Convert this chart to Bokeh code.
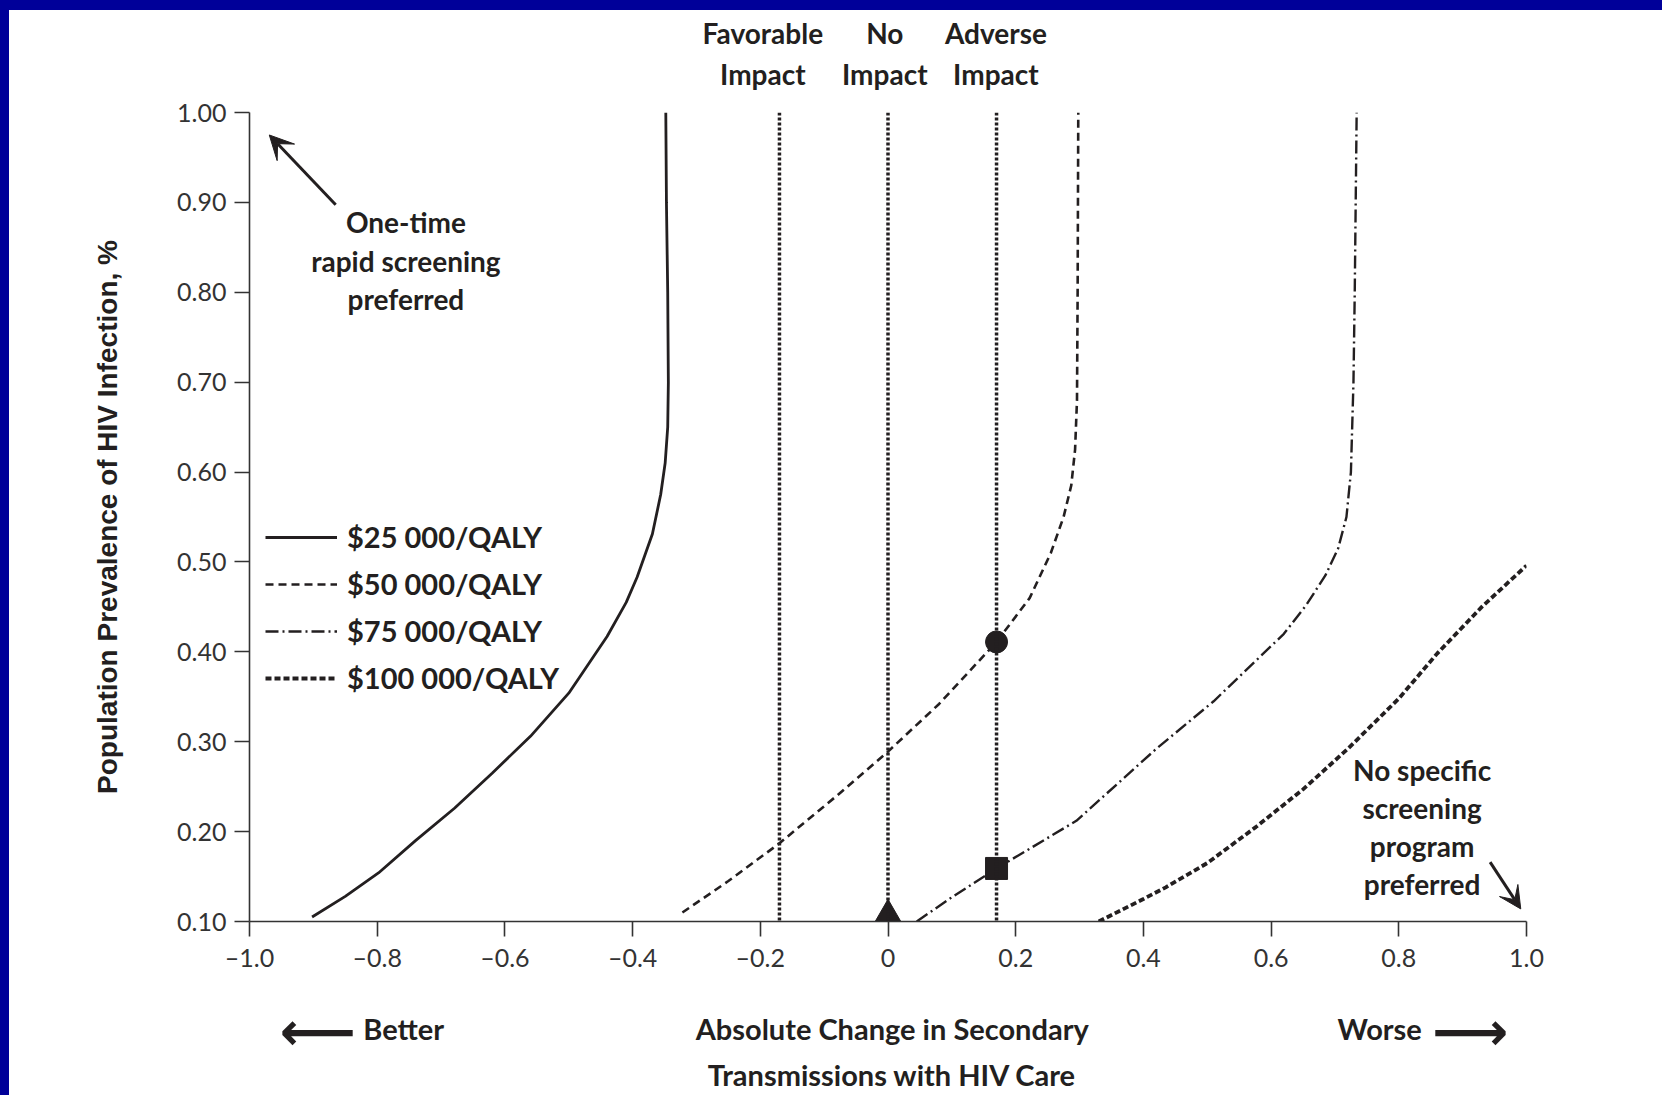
from bokeh.plotting import figure
from bokeh.models import (Range1d, FixedTicker, Label, Arrow, VeeHead, Span, Legend, LegendItem,
                          LinearAxis)
from bokeh.embed import file_html
from bokeh.resources import INLINE

INK = "#231f20"

# ---------------- data ----------------
x_ticks = [-1.0, -0.8, -0.6, -0.4, -0.2, 0.0, 0.2, 0.4, 0.6, 0.8, 1.0]
x_tick_labels = ["\u20131.0", "\u20130.8", "\u20130.6", "\u20130.4", "\u20130.2", "0", "0.2", "0.4", "0.6", "0.8", "1.0"]
y_ticks = [0.10, 0.20, 0.30, 0.40, 0.50, 0.60, 0.70, 0.80, 0.90, 1.00]
y_tick_labels = ["0.10", "0.20", "0.30", "0.40", "0.50", "0.60", "0.70", "0.80", "0.90", "1.00"]

series_names = ["$25 000/QALY", "$50 000/QALY", "$75 000/QALY", "$100 000/QALY"]

wtp25_x = [-0.902, -0.85, -0.798, -0.74, -0.679, -0.62, -0.56, -0.50, -0.44, -0.41, -0.393, -0.369, -0.356, -0.349, -0.345, -0.344, -0.345, -0.347, -0.348]
wtp25_y = [0.105, 0.128, 0.154, 0.19, 0.226, 0.265, 0.306, 0.354, 0.417, 0.455, 0.483, 0.531, 0.575, 0.61, 0.65, 0.70, 0.80, 0.90, 1.00]

wtp50_x = [-0.322, -0.25, -0.17, -0.08, 0.0, 0.08, 0.17, 0.222, 0.255, 0.275, 0.287, 0.293, 0.296, 0.297, 0.298]
wtp50_y = [0.110, 0.145, 0.187, 0.240, 0.289, 0.342, 0.411, 0.460, 0.510, 0.550, 0.585, 0.625, 0.68, 0.80, 1.00]

wtp75_x = [0.045, 0.10, 0.17, 0.295, 0.42, 0.51, 0.576, 0.62, 0.655, 0.685, 0.705, 0.718, 0.725, 0.729, 0.731, 0.734]
wtp75_y = [0.100, 0.127, 0.159, 0.212, 0.292, 0.345, 0.390, 0.420, 0.452, 0.485, 0.515, 0.55, 0.60, 0.70, 0.80, 1.00]

wtp100_x = [0.330, 0.40, 0.435, 0.50, 0.576, 0.65, 0.72, 0.80, 0.86, 0.93, 1.0]
wtp100_y = [0.100, 0.125, 0.138, 0.165, 0.205, 0.247, 0.292, 0.348, 0.398, 0.450, 0.496]

impact_x = [-0.17, 0.0, 0.17]          # favorable / no / adverse impact lines
header_x = [-0.196, -0.005, 0.169]
header_top = ["Favorable", "No", "Adverse"]
header_bottom = ["Impact", "Impact", "Impact"]

xtitle_x = [-0.7585, 0.0066, 0.770]
xtitle_row1 = ["Better", "Absolute Change in Secondary", "Worse"]
xarrow_x = [-0.893, 0.912]
xarrow_labels = ["\u27f5", "\u27f6"]
xtitle_row2_x = [0.0066]
xtitle_row2 = ["Transmissions with HIV Care"]

circle_pt = ([0.17], [0.411])
square_pt = ([0.17], [0.159])
triangle_pt = ([0.0], [0.108])

# ---------------- figure ----------------
p = figure(width=1653, height=1085, output_backend="svg", toolbar_location=None,
           x_range=Range1d(-1.0, 1.0), y_range=Range1d(0.10, 1.00),
           min_border_left=240, min_border_right=136, min_border_top=102, min_border_bottom=174,
           background_fill_color="white", border_fill_color="white")
p.outline_line_color = None
p.xgrid.visible = False
p.ygrid.visible = False

for ax in (p.xaxis, p.yaxis):
    ax.axis_line_color = "#333333"
    ax.axis_line_width = 1.6
    ax.major_tick_line_color = "#333333"
    ax.major_tick_line_width = 1.6
    ax.major_tick_out = 15
    ax.major_tick_in = 0
    ax.minor_tick_line_color = None
    ax.major_label_text_font = "Lato"
    ax.major_label_text_font_size = "25px"
    ax.major_label_text_color = "#333333"

p.xaxis.ticker = FixedTicker(ticks=x_ticks)
p.xaxis.major_label_overrides = dict(zip(x_ticks, x_tick_labels))
p.xaxis.major_label_standoff = 5
p.yaxis.ticker = FixedTicker(ticks=y_ticks)
p.yaxis.major_label_overrides = dict(zip(y_ticks, y_tick_labels))
p.yaxis.major_label_standoff = 8

p.yaxis.axis_label = "Population Prevalence of HIV Infection, %"
p.yaxis.axis_label_text_font = "Liberation Sans"
p.yaxis.axis_label_text_font_style = "bold"
p.yaxis.axis_label_text_font_size = "28px"
p.yaxis.axis_label_text_color = INK
p.yaxis.axis_label_standoff = 51


def text_axis(ticks, labels, standoff, size="28px", font="Lato"):
    ax = LinearAxis(ticker=FixedTicker(ticks=ticks), major_label_overrides=dict(zip(ticks, labels)))
    ax.axis_line_color = None
    ax.major_tick_line_color = None
    ax.minor_tick_line_color = None
    ax.major_tick_out = 0
    ax.major_tick_in = 0
    ax.major_label_standoff = standoff
    ax.major_label_text_font = font
    ax.major_label_text_font_style = "bold"
    ax.major_label_text_font_size = size
    ax.major_label_text_color = INK
    return ax

# header rows above the frame (first added is nearest the frame)
p.add_layout(text_axis(header_x, header_bottom, 22), "above")
p.add_layout(text_axis(header_x, header_top, 4), "above")
# x-axis title rows below the tick labels (arrow row overlaps the first title row)
p.add_layout(text_axis(xtitle_x, xtitle_row1, 36, size="29px"), "below")
p.add_layout(text_axis(xarrow_x, xarrow_labels, -48, size="53px", font="DejaVu Sans"), "below")
p.add_layout(text_axis(xtitle_row2_x, xtitle_row2, -8, size="29px"), "below")

# vertical impact lines
for xv in impact_x:
    p.add_layout(Span(location=xv, dimension="height", line_color=INK, line_width=3.5, line_dash="3 2"))

# curves
r25 = p.line(wtp25_x, wtp25_y, line_color=INK, line_width=2.8)
r50 = p.line(wtp50_x, wtp50_y, line_color=INK, line_width=2.6, line_dash="8 5")
r75 = p.line(wtp75_x, wtp75_y, line_color=INK, line_width=2.4, line_dash="13 4 2 4")
r100 = p.line(wtp100_x, wtp100_y, line_color=INK, line_width=3.8, line_dash="6 3")

# markers
p.scatter(circle_pt[0], circle_pt[1], marker="circle", size=22, fill_color=INK, line_color=INK)
p.scatter(square_pt[0], square_pt[1], marker="square", size=22, fill_color=INK, line_color=INK)
p.scatter(triangle_pt[0], triangle_pt[1], marker="triangle", size=26, fill_color=INK, line_color=INK)

# legend
legend = Legend(items=[LegendItem(label=n, renderers=[r]) for n, r in zip(series_names, [r25, r50, r75, r100])],
                location=(16, 226), padding=0, margin=0, spacing=12,
                glyph_width=72, glyph_height=34, label_height=34, label_standoff=10,
                label_text_font="Lato", label_text_font_style="bold", label_text_font_size="29px",
                label_text_color=INK, border_line_color=None, background_fill_alpha=0)
p.add_layout(legend, "center")


def txt(t, x, y):
    p.add_layout(Label(x=x, y=y, text=t, text_font="Lato", text_font_style="bold", text_font_size="28px",
                       text_color=INK, text_align="center", text_baseline="middle"))

# region annotations
for t, yv in zip(["One-time", "rapid screening", "preferred"], [0.8785, 0.8348, 0.7924]):
    txt(t, -0.755, yv)
p.add_layout(Arrow(end=VeeHead(size=24, fill_color=INK, line_color=INK), x_start=-0.865, y_start=0.8974,
                   x_end=-0.969, y_end=0.975, line_width=3, line_color=INK))

for t, yv in zip(["No specific", "screening", "program", "preferred"], [0.2687, 0.2262, 0.1837, 0.1413]):
    txt(t, 0.8365, yv)
p.add_layout(Arrow(end=VeeHead(size=22, fill_color=INK, line_color=INK), x_start=0.943, y_start=0.166,
                   x_end=0.991, y_end=0.114, line_width=3, line_color=INK))

try:
    from bokeh.models import GlobalInlineStyleSheet
    p.stylesheets = [GlobalInlineStyleSheet(css=(
        "html{background:linear-gradient(#000099,#000099) 0 0/100% 10px no-repeat,"
        "linear-gradient(#000099,#000099) 0 0/9px 100% no-repeat,#ffffff !important;}"
        "body{padding:10px 0 0 9px !important;background:transparent !important;}"))]
except Exception:
    pass

open("out.html", "w").write(file_html(p, INLINE))
